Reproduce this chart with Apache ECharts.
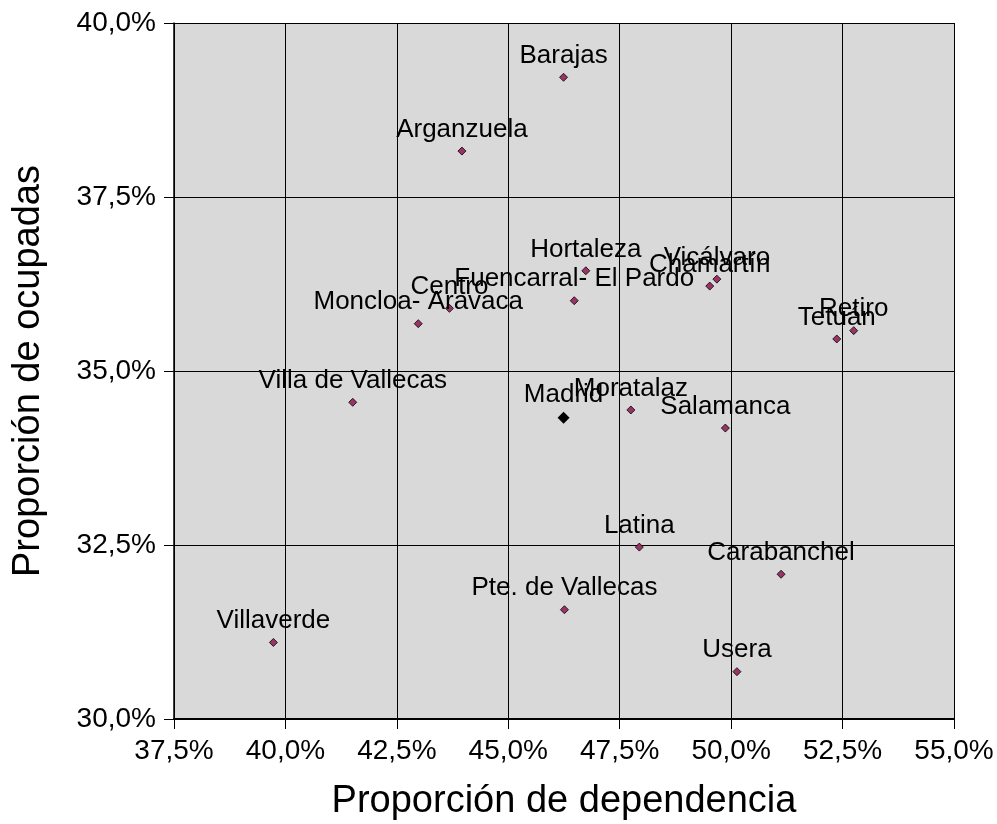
<!DOCTYPE html>
<html>
<head>
<meta charset="utf-8">
<script src="https://cdn.jsdelivr.net/npm/echarts@6/dist/echarts.min.js"></script>
<style>
  html, body { margin: 0; padding: 0; background: #fff; }
  #main { width: 997px; height: 824px; }
</style>
</head>
<body>
<div id="main"></div>
<script>
// distritos
const distritos = ['Villaverde', 'Arganzuela', 'Barajas', 'Usera', 'Hortaleza', 'Fuencarral- El Pardo',
  'Centro', 'Moncloa- Aravaca', 'Chamartín', 'Vicálvaro', 'Villa de Vallecas', 'Moratalaz',
  'Salamanca', 'Tetuán', 'Retiro', 'Latina', 'Pte. de Vallecas', 'Carabanchel']
// proporción de dependencia (%)
const dependencia = [39.73, 43.96, 46.24, 50.13, 46.74, 46.48, 43.68, 42.98, 49.52, 49.68,
  41.51, 47.75, 49.87, 52.37, 52.75, 47.94, 46.26, 51.12]
// proporción de ocupadas (%)
const ocupadas = [31.10, 38.16, 39.22, 30.68, 36.44, 36.01, 35.90, 35.68, 36.22, 36.32,
  34.55, 34.44, 34.18, 35.46, 35.58, 32.47, 31.57, 32.08]

const madrid = { name: 'Madrid', x: 46.24, y: 34.33 }

const xTicks = [37.5, 55]
const yTicks = [30, 40]

const fmt = v => v.toFixed(1).replace('.', ',') + '%'

const myChart = echarts.init(document.getElementById('main'))

const fontFam = 'Liberation Sans, Arial, sans-serif'

const labelStyle = {
  show: true,
  position: 'top',
  distance: 4,
  color: '#000',
  fontSize: 26,
  fontFamily: fontFam,
  formatter: p => p.name
}

myChart.setOption({
  animation: false,
  grid: {
    left: 174, right: 43, top: 23, bottom: 105,
    containLabel: false,
    outerBoundsMode: 'none',
    show: true,
    backgroundColor: '#d9d9d9',
    borderWidth: 0
  },
  xAxis: {
    type: 'value',
    min: xTicks[0], max: xTicks[1], interval: 2.5,
    name: 'Proporción de dependencia',
    nameLocation: 'middle',
    nameGap: 64,
    nameTextStyle: { fontSize: 38, color: '#000', fontFamily: fontFam },
    axisLine: { show: true, lineStyle: { color: '#000', width: 2 } },
    axisTick: { show: true, length: 10, lineStyle: { color: '#000' } },
    axisLabel: { fontSize: 28, color: '#000', fontFamily: fontFam, margin: 18, formatter: fmt },
    splitLine: { show: true, lineStyle: { color: '#000', width: 1 } }
  },
  yAxis: {
    type: 'value',
    min: yTicks[0], max: yTicks[1], interval: 2.5,
    name: 'Proporción de ocupadas',
    nameLocation: 'middle',
    nameGap: 126,
    nameTextStyle: { fontSize: 38, color: '#000', fontFamily: fontFam },
    axisLine: { show: true, lineStyle: { color: '#000', width: 1.5 } },
    axisTick: { show: true, length: 10, lineStyle: { color: '#000' } },
    axisLabel: { fontSize: 28, color: '#000', fontFamily: fontFam, margin: 18, formatter: fmt },
    splitLine: { show: true, lineStyle: { color: '#000', width: 1 } }
  },
  series: [
    {
      type: 'scatter',
      symbol: 'diamond',
      symbolSize: 8,
      itemStyle: { color: '#993366', borderColor: '#000', borderWidth: 0.8, opacity: 1 },
      label: labelStyle,
      data: distritos.map((d, i) => ({ name: d, value: [dependencia[i], ocupadas[i]] }))
    },
    {
      type: 'scatter',
      symbol: 'diamond',
      symbolSize: 12,
      itemStyle: { color: '#000', opacity: 1 },
      label: labelStyle,
      data: [{ name: madrid.name, value: [madrid.x, madrid.y] }]
    }
  ]
})
</script>
</body>
</html>
